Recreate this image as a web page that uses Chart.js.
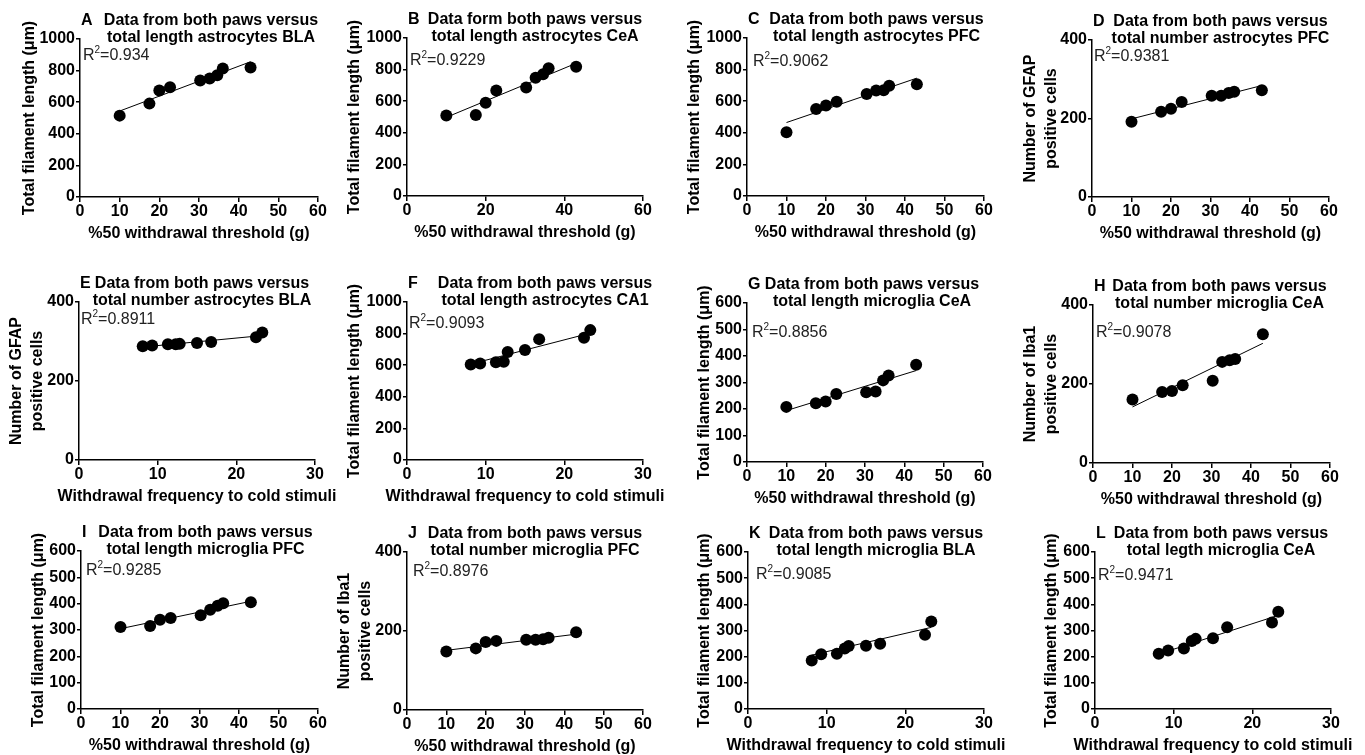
<!DOCTYPE html>
<html>
<head>
<meta charset="utf-8">
<script src="https://cdn.jsdelivr.net/npm/chart.js@4.4.1/dist/chart.umd.min.js"></script>
<style>
  body { margin: 0; background: #fff; width: 1365px; height: 755px; overflow: hidden; position: relative; }
  canvas { position: absolute; }
</style>
</head>
<body>
<script>
// x values shared by the panels
const thresholdX = [10, 17.5, 20, 22.7, 30.3, 32.7, 34.6, 36, 43];
const coldX = [8.1, 9.3, 11.3, 12.3, 12.8, 15, 16.8, 22.5, 23.3];

// y values, one array per panel
const lengthAstroBLA = [515, 591, 674, 695, 737, 750, 771, 813, 820];
const lengthAstroCeA = [510, 512, 590, 668, 687, 748, 770, 808, 818];
const lengthAstroPFC = [404, 550, 573, 596, 645, 668, 670, 698, 708];
const numberAstroPFC = [192, 217, 225, 242, 258, 258, 265, 268, 272];
const numberAstroBLA = [288, 290, 293, 293, 294, 296, 299, 311, 323];
const lengthAstroCA1 = [605, 611, 619, 622, 683, 696, 765, 774, 822];
const lengthMicroCeA = [208, 222, 228, 257, 263, 266, 308, 326, 367];
const numberMicroCeA = [161, 180, 182, 197, 208, 256, 260, 263, 326];
const lengthMicroPFC = [311, 315, 339, 346, 356, 377, 392, 402, 405];
const numberMicroPFC = [148, 156, 172, 175, 178, 178, 179, 183, 197];
const lengthMicroBLA = [185, 209, 211, 231, 241, 242, 249, 284, 334];
const lengthMicroCeAcold = [211, 224, 231, 260, 268, 270, 312, 331, 372];

// fitted line, y at the first and last x of each panel
const fitA = [544, 856];
const fitB = [498, 840];
const fitC = [465, 746];
const fitD = [199, 284];
const fitE = [286, 315];
const fitF = [607, 803];
const fitG = [194, 345];
const fitH = [142, 303];
const fitI = [305, 409];
const fitJ = [151, 192];
const fitK = [206, 312];
const fitL = [210, 358];

const r2Labels = ['0.934', '0.9229', '0.9062', '0.9381', '0.8911', '0.9093',
                  '0.8856', '0.9078', '0.9285', '0.8976', '0.9085', '0.9471'];

const FONT = '"Liberation Sans", Arial, Helvetica, sans-serif';
const LEN_TITLE = 'Total filament length (\u03bcm)';
const GFAP_TITLE = ['Number of GFAP', 'positive cells'];
const IBA_TITLE = ['Number of Iba1', 'positive cells'];
const THR_TITLE = '%50 withdrawal threshold (g)';
const COLD_TITLE = 'Withdrawal frequency to cold stimuli';

const panels = [
  { letter: 'A', lines: ['Data from both paws versus', 'total length astrocytes BLA'], x: thresholdX, y: lengthAstroBLA, fit: fitA,
    xMax: 60, xStep: 10, yMax: 1000, yStep: 200, yTitle: LEN_TITLE, xTitle: THR_TITLE,
    area: [80, 39, 318, 197], titleDx: 12, r2At: [3, 21], yOff: 50 },
  { letter: 'B', lines: ['Data form both paws versus', 'total length astrocytes CeA'], x: thresholdX, y: lengthAstroCeA, fit: fitB,
    xMax: 60, xStep: 20, yMax: 1000, yStep: 200, yTitle: LEN_TITLE, xTitle: THR_TITLE,
    area: [407, 38, 643, 196], titleDx: 10, r2At: [3, 27], yOff: 52 },
  { letter: 'C', lines: ['Data from both paws versus', 'total length astrocytes PFC'], x: thresholdX, y: lengthAstroPFC, fit: fitC,
    xMax: 60, xStep: 10, yMax: 1000, yStep: 200, yTitle: LEN_TITLE, xTitle: THR_TITLE,
    area: [747, 38, 984, 196], titleDx: 11, r2At: [6, 28], yOff: 52 },
  { letter: 'D', lines: ['Data from both paws versus', 'total number astrocytes PFC'], x: thresholdX, y: numberAstroPFC, fit: fitD,
    xMax: 60, xStep: 10, yMax: 400, yStep: 200, yTitle: GFAP_TITLE, xTitle: THR_TITLE,
    area: [1092, 40, 1329, 197], titleDx: 10, r2At: [2, 21], yOff: 61 },
  { letter: 'E', lines: ['Data from both paws versus', 'total number astrocytes BLA'], x: coldX, y: numberAstroBLA, fit: fitE,
    xMax: 30, xStep: 10, yMax: 400, yStep: 200, yTitle: GFAP_TITLE, xTitle: COLD_TITLE,
    area: [79, 302, 315, 460], titleDx: 5, r2At: [2, 22], yOff: 62, padR: 25 },
  { letter: 'F', lines: ['Data from both paws versus', 'total length astrocytes CA1'], x: coldX, y: lengthAstroCA1, fit: fitF,
    xMax: 30, xStep: 10, yMax: 1000, yStep: 200, yTitle: LEN_TITLE, xTitle: COLD_TITLE,
    area: [407, 302, 643, 460], titleDx: 20, r2At: [2, 26], yOff: 52 },
  { letter: 'G', lines: ['Data from both paws versus', 'total length microglia CeA'], x: thresholdX, y: lengthMicroCeA, fit: fitG,
    xMax: 60, xStep: 10, yMax: 600, yStep: 100, yTitle: LEN_TITLE, xTitle: THR_TITLE,
    area: [747, 303, 983, 462], titleDx: 7, r2At: [5, 34], yOff: 42 },
  { letter: 'H', lines: ['Data from both paws versus', 'total number microglia CeA'], x: thresholdX, y: numberMicroCeA, fit: fitH,
    xMax: 60, xStep: 10, yMax: 400, yStep: 200, yTitle: IBA_TITLE, xTitle: THR_TITLE,
    area: [1093, 305, 1330, 463], titleDx: 8, r2At: [3, 32], yOff: 62 },
  { letter: 'I', lines: ['Data from both paws versus', 'total length microglia PFC'], x: thresholdX, y: lengthMicroPFC, fit: fitI,
    xMax: 60, xStep: 10, yMax: 600, yStep: 100, yTitle: LEN_TITLE, xTitle: THR_TITLE,
    area: [81, 551, 318, 709], titleDx: 6, r2At: [5, 24], yOff: 42 },
  { letter: 'J', lines: ['Data from both paws versus', 'total number microglia PFC'], x: thresholdX, y: numberMicroPFC, fit: fitJ,
    xMax: 60, xStep: 10, yMax: 400, yStep: 200, yTitle: IBA_TITLE, xTitle: THR_TITLE,
    area: [407, 552, 643, 710], titleDx: 10, r2At: [6, 24], yOff: 62 },
  { letter: 'K', lines: ['Data from both paws versus', 'total length microglia BLA'], x: coldX, y: lengthMicroBLA, fit: fitK,
    xMax: 30, xStep: 10, yMax: 600, yStep: 100, yTitle: LEN_TITLE, xTitle: COLD_TITLE,
    area: [748, 552, 984, 709], titleDx: 10, r2At: [8, 27], yOff: 43 },
  { letter: 'L', lines: ['Data from both paws versus', 'total legth microglia CeA'], x: coldX, y: lengthMicroCeAcold, fit: fitL,
    xMax: 30, xStep: 10, yMax: 600, yStep: 100, yTitle: LEN_TITLE, xTitle: COLD_TITLE,
    area: [1095, 552, 1331, 709], titleDx: 8, r2At: [3, 28], yOff: 43 }
];

// letter, two-line heading, R² label and x title, placed relative to the plot area
const panelText = {
  id: 'panelText',
  afterDraw(chart, args, o) {
    const { ctx, chartArea: a } = chart;
    ctx.save();
    ctx.fillStyle = '#000';
    ctx.textBaseline = 'alphabetic';
    ctx.font = 'bold 16px ' + FONT;
    ctx.textAlign = 'left';
    ctx.fillText(o.letter, a.left + 1, a.top - 14);
    ctx.textAlign = 'center';
    const cx = (a.left + a.right) / 2 + o.titleDx;
    ctx.fillText(o.lines[0], cx, a.top - 14);
    ctx.fillText(o.lines[1], cx, a.top + 3);

    // x axis title (drawn here so long titles are not squeezed to the axis width)
    ctx.textBaseline = 'middle';
    ctx.fillText(o.xTitle, (a.left + a.right) / 2, a.bottom + 37);

    ctx.textBaseline = 'alphabetic';
    ctx.textAlign = 'left';
    ctx.fillStyle = '#222';
    let x = a.left + o.r2At[0];
    const y = a.top + o.r2At[1];
    ctx.font = '16px ' + FONT;
    ctx.fillText('R', x, y);
    x += ctx.measureText('R').width;
    ctx.font = '10px ' + FONT;
    ctx.fillText('2', x, y - 7);
    x += ctx.measureText('2').width;
    ctx.font = '16px ' + FONT;
    ctx.fillText('=' + o.r2, x, y);
    ctx.restore();
  }
};

const Y_W = 80, X_H = 48, PAD_L = 2, PAD_T = 45, PAD_B = 2;
const plain = v => String(v);

panels.forEach((p, i) => {
  const [l, t, r, b] = p.area;
  const padR = p.padR || 30;
  const cv = document.createElement('canvas');
  cv.width = (r - l) + Y_W + PAD_L + padR;
  cv.height = (b - t) + PAD_T + X_H + PAD_B;
  cv.style.left = (l - Y_W - PAD_L) + 'px';
  cv.style.top = (t - PAD_T) + 'px';
  document.body.appendChild(cv);

  const pts = p.x.map((xv, k) => ({ x: xv, y: p.y[k] }));
  const line = [{ x: p.x[0], y: p.fit[0] }, { x: p.x[p.x.length - 1], y: p.fit[1] }];

  new Chart(cv, {
    type: 'scatter',
    data: {
      datasets: [
        { data: line, showLine: true, borderColor: '#000', borderWidth: 1, pointRadius: 0, order: 2 },
        { data: pts, pointRadius: 6, pointBackgroundColor: '#000', pointBorderWidth: 0, order: 1 }
      ]
    },
    options: {
      responsive: false,
      animation: false,
      devicePixelRatio: 1,
      layout: { padding: { left: PAD_L, top: PAD_T, right: padR, bottom: PAD_B } },
      plugins: {
        legend: { display: false },
        title: { display: false },
        tooltip: { enabled: false },
        panelText: { letter: p.letter, lines: p.lines, titleDx: p.titleDx, r2At: p.r2At, r2: r2Labels[i], xTitle: p.xTitle }
      },
      scales: {
        x: {
          type: 'linear', min: 0, max: p.xMax,
          afterFit(s) { s.height = X_H; },
          border: { display: true, color: '#000', width: 1.5 },
          grid: { drawOnChartArea: false, drawTicks: true, tickLength: 5, color: '#000', lineWidth: 1.5 },
          ticks: { stepSize: p.xStep, padding: 0, color: '#000', callback: plain,
                   font: { family: FONT, size: 16, weight: 'bold' } }
        },
        y: {
          type: 'linear', min: 0, max: p.yMax,
          afterFit(s) { s.width = Y_W; },
          border: { display: true, color: '#000', width: 1.5 },
          grid: { drawOnChartArea: false, drawTicks: true, tickLength: 4, color: '#000', lineWidth: 1.5 },
          ticks: { stepSize: p.yStep, padding: 1, color: '#000', callback: plain,
                   font: { family: FONT, size: 16, weight: 'bold' } },
          title: { display: true, text: p.yTitle, color: '#000',
                   padding: { top: Y_W - p.yOff - 10.4, bottom: 0 },
                   font: { family: FONT, size: 16, weight: 'bold', lineHeight: 1.3 } }
        }
      }
    },
    plugins: [panelText]
  });
});
</script>
</body>
</html>
